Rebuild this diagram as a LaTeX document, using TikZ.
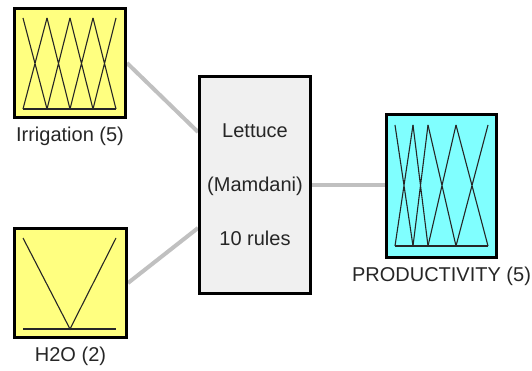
\documentclass[tikz,border=0pt]{standalone}
\usepackage{fontspec}
\setmainfont{Liberation Sans}
\usetikzlibrary{positioning,backgrounds}
\definecolor{inyellow}{HTML}{FFFF80}
\definecolor{outcyan}{HTML}{80FFFF}
\definecolor{rulegray}{HTML}{F0F0F0}
\definecolor{linkgray}{HTML}{C0C0C0}
\begin{document}
\begin{tikzpicture}[x=1pt,y=-1pt,
    fis/.style={draw=black,line width=3pt,inner sep=0pt},
    mf/.style={line width=1.1pt,draw=black!85},
    link/.style={line width=4pt,draw=linkgray},
    lbl/.style={font=\fontsize{20}{22}\selectfont,inner sep=0pt,text=black!85}]
    \useasboundingbox (0,0) rectangle (532,371);
    \node [fis,fill=inyellow,minimum width=111pt,minimum height=109pt] (irrigation) at (70,63) {};
    \node [fis,fill=inyellow,minimum width=112pt,minimum height=109pt] (h2o) at (70.5,283) {};
    \node [fis,fill=rulegray,minimum width=111pt,minimum height=217pt,
           font=\fontsize{20}{54}\selectfont,text=black!85,align=center] (lettuce) at (255,185)
          {Lettuce\\(Mamdani)\\10 rules};
    \node [fis,fill=outcyan,minimum width=110pt,minimum height=143pt] (productivity) at (441.5,186) {};
    \node [lbl,below=8pt of irrigation] (irrigationlbl) {Irrigation (5)};
    \node [lbl,below=8pt of h2o] (h2olbl) {H2O (2)};
    \node [lbl,below=8pt of productivity] (productivitylbl) {PRODUCTIVITY (5)};
    \begin{pgfonlayer}{background}
        \draw [link] (irrigation.east) -- ([yshift=53pt]lettuce.west);
        \draw [link] (h2o.east) -- ([yshift=-43pt]lettuce.west);
        \draw [link] (lettuce.east) -- (lettuce.east -| productivity.west);
    \end{pgfonlayer}
    % membership functions
    \foreach \a/\b in {23/47,47/70,70/93,93/116}
        \draw [mf] (\a,18) -- (\b,109) (\a,109) -- (\b,18);
    \draw [mf] (23,109) -- (116,109);
    \draw [mf] (23,238) -- (70,329) -- (116,238);
    \draw [mf] (23,329) -- (116,329);
    \foreach \a/\b in {395/413,413/428,428/456,456/488}
        \draw [mf] (\a,125) -- (\b,246) (\a,246) -- (\b,125);
    \draw [mf] (395,246) -- (488,246);
\end{tikzpicture}
\end{document}
